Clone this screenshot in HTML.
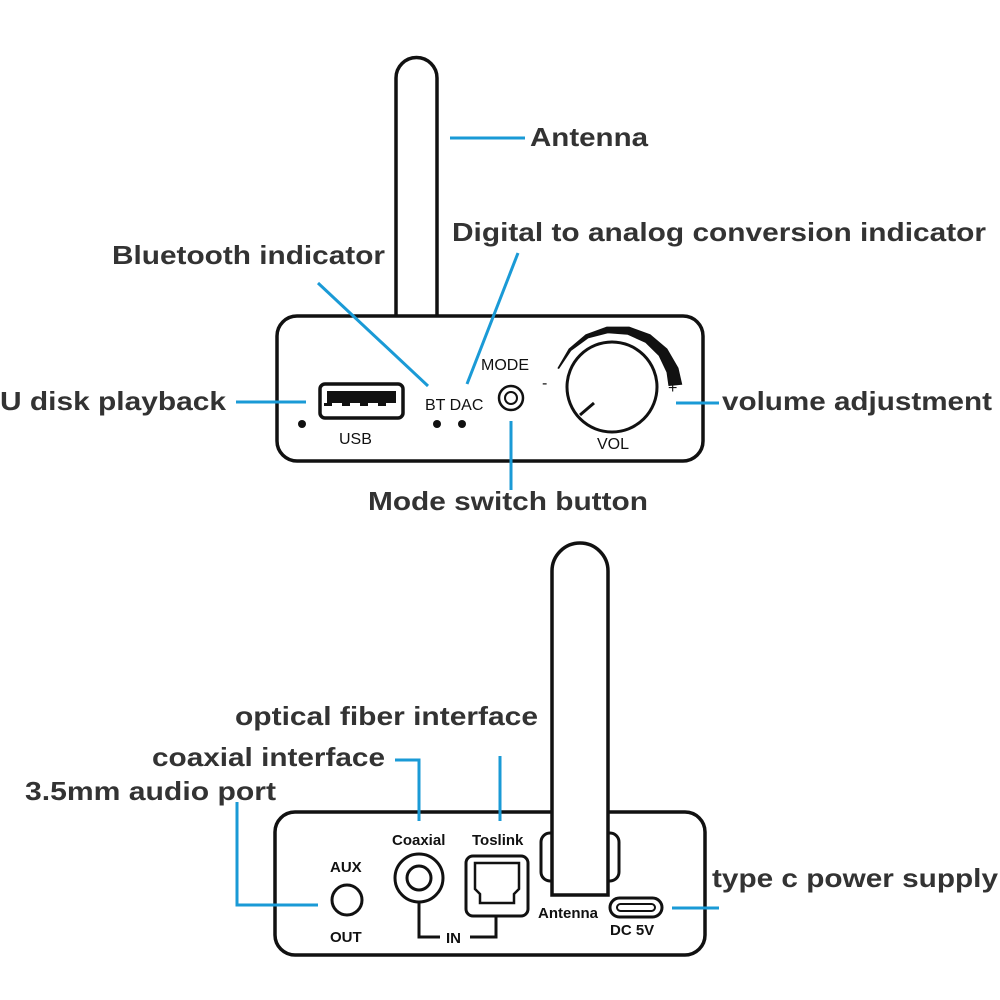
<!DOCTYPE html>
<html><head><meta charset="utf-8"><style>
html,body{margin:0;padding:0;background:#fff;}
svg{display:block;}
.l{font-family:"Liberation Sans",sans-serif;font-weight:bold;font-size:26px;fill:#333;}
.s{font-family:"Liberation Sans",sans-serif;font-size:16px;fill:#111;}
.b{font-family:"Liberation Sans",sans-serif;font-weight:bold;font-size:15px;fill:#111;}
.c{stroke:#1a9ad6;stroke-width:3;fill:none;}
.k{stroke:#111;stroke-width:3.5;fill:#fff;}
</style></head><body>
<svg width="1000" height="1000" viewBox="0 0 1000 1000">
<!-- TOP -->
<path class="k" d="M396,316 V78 a20.5,20.5 0 0 1 41,0 V316"/>
<rect class="k" x="277" y="316" width="426" height="145" rx="20"/>
<line class="c" x1="450" y1="138" x2="525" y2="138"/>
<text class="l" x="530" y="146" textLength="118" lengthAdjust="spacingAndGlyphs">Antenna</text>
<text class="l" x="112" y="264" textLength="273" lengthAdjust="spacingAndGlyphs">Bluetooth indicator</text>
<line class="c" x1="318" y1="283" x2="428" y2="386"/>
<text class="l" x="452" y="241" textLength="534" lengthAdjust="spacingAndGlyphs">Digital to analog conversion indicator</text>
<line class="c" x1="518" y1="253" x2="467" y2="384"/>
<text class="l" x="0" y="410" textLength="226" lengthAdjust="spacingAndGlyphs">U disk playback</text>
<line class="c" x1="236" y1="402" x2="306" y2="402"/>
<circle cx="302" cy="424" r="4" fill="#111"/>
<rect x="320" y="384" width="83" height="34" rx="5" fill="none" stroke="#111" stroke-width="3.5"/>
<path d="M327,391 H396 V403 H386 v3 h-8 v-3 h-10 v3 h-8 v-3 h-10 v3 h-8 v-3 h-10 v3 h-8 v-3 H327 Z" fill="#111"/>
<text class="s" x="339" y="444" font-size="19">USB</text>
<text class="s" x="425" y="410">BT DAC</text>
<circle cx="437" cy="424" r="4" fill="#111"/>
<circle cx="462" cy="424" r="4" fill="#111"/>
<text class="s" x="481" y="370" font-size="18">MODE</text>
<circle cx="511" cy="398" r="12" fill="none" stroke="#111" stroke-width="2.5"/>
<circle cx="511" cy="398" r="6" fill="none" stroke="#111" stroke-width="2"/>
<line class="c" x1="511" y1="421" x2="511" y2="490"/>
<text class="l" x="368" y="510" textLength="280" lengthAdjust="spacingAndGlyphs">Mode switch button</text>
<circle cx="612" cy="387" r="45" fill="none" stroke="#111" stroke-width="3"/>
<line x1="580" y1="415" x2="594" y2="403" stroke="#111" stroke-width="3"/>
<path d="M557.9,368.1 L569,348.9 L586,334.6 L606.9,327 L629.1,327 L650,334.6 L667,348.9 L678.1,368.1 L681.8,384.4 L668.8,385.6 L666.9,372.2 L659,355.6 L645.5,342.4 L627.8,334.4 L607.9,332.9 L588,338 L570.9,350.5 L558.8,368.5 Z" fill="#111" stroke="#111" stroke-width="0.8" stroke-linejoin="round"/>
<text class="s" x="542" y="388">-</text>
<text class="s" x="668" y="393">+</text>
<text class="s" x="597" y="449">VOL</text>
<line class="c" x1="676" y1="403" x2="719" y2="403"/>
<text class="l" x="722" y="410" textLength="270" lengthAdjust="spacingAndGlyphs">volume adjustment</text>

<!-- BOTTOM -->
<rect class="k" x="275" y="812" width="430" height="143" rx="20"/>
<rect x="541" y="833" width="78" height="48" rx="9" fill="#fff" stroke="#111" stroke-width="3"/>
<path class="k" d="M552,895 V571 a28,28 0 0 1 56,0 V895 Z"/>
<text class="b" x="538" y="918">Antenna</text>
<text class="b" x="330" y="872">AUX</text>
<text class="b" x="330" y="942">OUT</text>
<circle cx="347" cy="900" r="15" fill="none" stroke="#111" stroke-width="3"/>
<text class="b" x="392" y="845">Coaxial</text>
<circle cx="419" cy="878" r="24" fill="none" stroke="#111" stroke-width="3"/>
<circle cx="419" cy="878" r="12" fill="none" stroke="#111" stroke-width="3"/>
<text class="b" x="472" y="845">Toslink</text>
<rect x="466" y="856" width="62" height="60" rx="7" fill="none" stroke="#111" stroke-width="3"/>
<path d="M475,863 H519 V889 L514,894 V903 H480 V894 L475,889 Z" fill="none" stroke="#111" stroke-width="2.5"/>
<path d="M419,903 V937 H440 M470,937 H496 V916" fill="none" stroke="#111" stroke-width="3"/>
<text class="b" x="446" y="943">IN</text>
<rect x="610" y="898" width="52" height="19" rx="9.5" fill="none" stroke="#111" stroke-width="3"/>
<rect x="617" y="904" width="38" height="7" rx="3.5" fill="none" stroke="#111" stroke-width="2"/>
<text class="b" x="610" y="935">DC 5V</text>
<line class="c" x1="672" y1="908" x2="719" y2="908"/>
<text class="l" x="712" y="887" textLength="286" lengthAdjust="spacingAndGlyphs">type c power supply</text>
<text class="l" x="235" y="725" textLength="303" lengthAdjust="spacingAndGlyphs">optical fiber interface</text>
<line class="c" x1="500" y1="756" x2="500" y2="821"/>
<text class="l" x="152" y="766" textLength="233" lengthAdjust="spacingAndGlyphs">coaxial interface</text>
<path class="c" d="M395,760 H419 V821"/>
<text class="l" x="25" y="800" textLength="251" lengthAdjust="spacingAndGlyphs">3.5mm audio port</text>
<path class="c" d="M237,802 V905 H318"/>
</svg>
</body></html>
